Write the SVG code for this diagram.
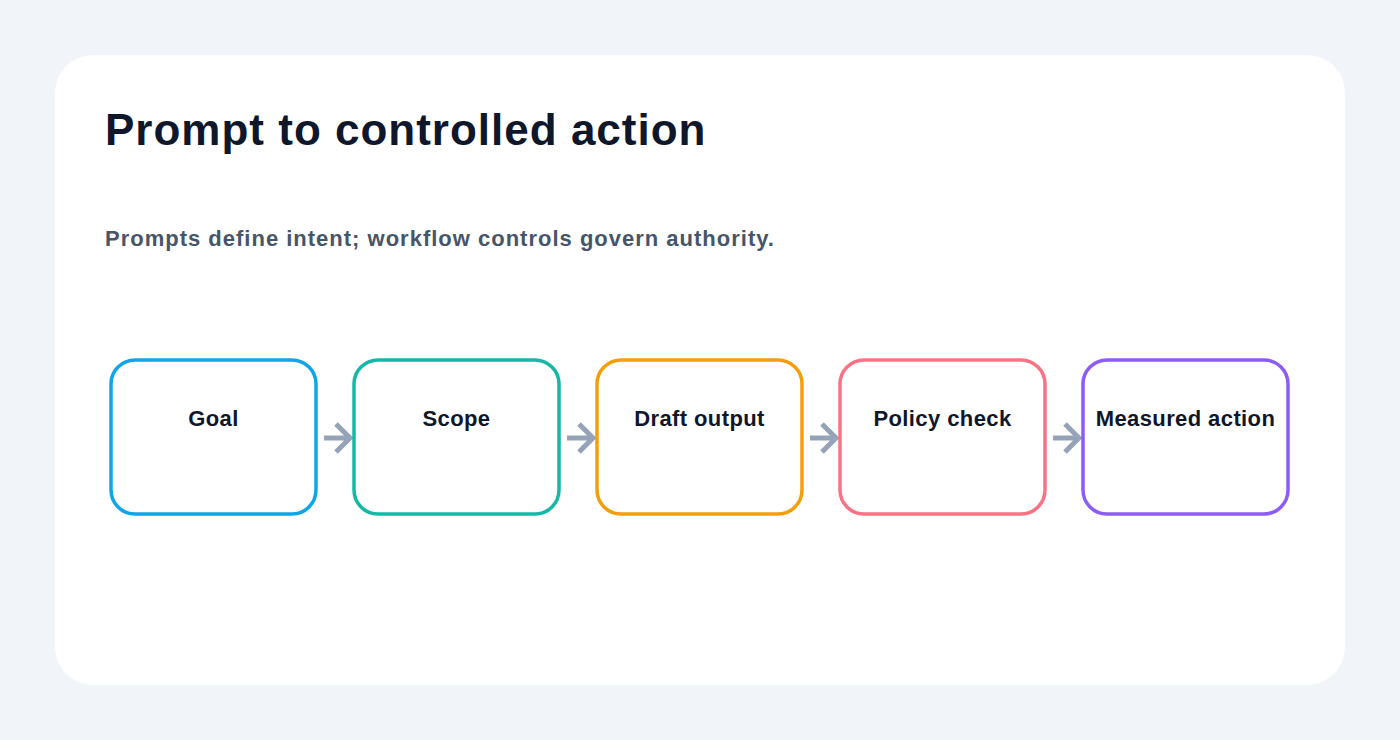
<svg xmlns="http://www.w3.org/2000/svg" width="1400" height="740" viewBox="0 0 1400 740">
<defs>
<style>
.node rect{fill:#ffffff;stroke-width:3.5}
.lbl{font-family:"Liberation Sans",Arial,sans-serif;font-size:22px;font-weight:bold;fill:#0f172a;text-anchor:middle;letter-spacing:0.4px}
.conn path{fill:none;stroke:#94a3b8;stroke-width:5}
</style>
</defs>
<rect x="0" y="0" width="1400" height="740" fill="#f1f5f9"/>
<rect x="55" y="55" width="1290" height="630" rx="38" fill="#ffffff"/>
<text x="105" y="145" font-family="Liberation Sans,Arial,sans-serif" font-size="44" font-weight="bold" fill="#0f172a" letter-spacing="1">Prompt to controlled action</text>
<text x="105" y="246" font-family="Liberation Sans,Arial,sans-serif" font-size="22" font-weight="bold" fill="#475569" letter-spacing="1">Prompts define intent; workflow controls govern authority.</text>
<g id="connectors" class="conn">
<path d="M324 438H350M336 424L350 438L336 452"/>
<path d="M567 438H593M579 424L593 438L579 452"/>
<path d="M810 438H836M822 424L836 438L822 452"/>
<path d="M1053 438H1079M1065 424L1079 438L1065 452"/>
</g>
<g id="node-goal" class="node"><rect x="111" y="360" width="205" height="154" rx="24" stroke="#0ea5e9"/><text class="lbl" x="213.5" y="426">Goal</text></g>
<g id="node-scope" class="node"><rect x="354" y="360" width="205" height="154" rx="24" stroke="#14b8a6"/><text class="lbl" x="456.5" y="426">Scope</text></g>
<g id="node-draft" class="node"><rect x="597" y="360" width="205" height="154" rx="24" stroke="#f59e0b"/><text class="lbl" x="699.5" y="426">Draft output</text></g>
<g id="node-policy" class="node"><rect x="840" y="360" width="205" height="154" rx="24" stroke="#fb7185"/><text class="lbl" x="942.5" y="426">Policy check</text></g>
<g id="node-measured" class="node"><rect x="1083" y="360" width="205" height="154" rx="24" stroke="#8b5cf6"/><text class="lbl" x="1185.5" y="426">Measured action</text></g>
</svg>
